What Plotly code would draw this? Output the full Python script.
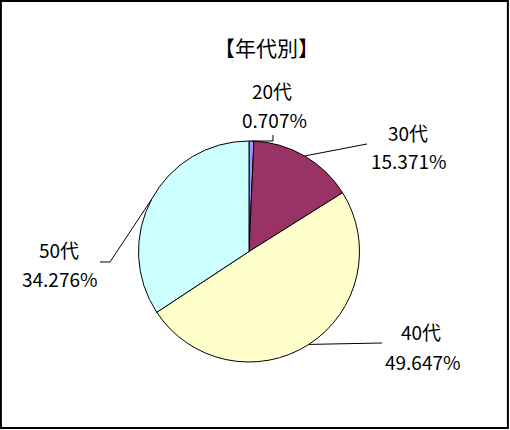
import math
import plotly.graph_objects as go

# ---- data ----
categories = ["20代", "30代", "40代", "50代"]
values = [0.707, 15.371, 49.647, 34.276]
pct_labels = ["0.707%", "15.371%", "49.647%", "34.276%"]
colors = ["#9999FF", "#993366", "#FFFFCC", "#CCFFFF"]
title_text = "【年代別】"

# ---- layout constants (pixels) ----
W, H = 510, 430
CX, CY, R = 249.0, 251.5, 110.5
FONT = "Noto Sans CJK JP, Noto Sans, sans-serif"

# label centre positions: (name_x, name_y, pct_x, pct_y)
label_pos = [
    (272, 90, 274, 119.5),
    (407.5, 132, 408.5, 160.5),
    (421, 331.5, 422.5, 361),
    (59, 249, 59.5, 278.5),
]
# leader-line intermediate/end points (pixels) after the slice anchor
leader_pts = [
    [(273, 141), (273, 135)],
    [(367, 144)],
    [(382, 343)],
    [(110, 262), (100, 262)],
]


def px(x):
    return x / W


def py(y):
    return 1 - y / H


fig = go.Figure(
    go.Pie(
        labels=categories,
        values=values,
        sort=False,
        direction="clockwise",
        rotation=0,
        marker=dict(colors=colors, line=dict(color="black", width=1)),
        textinfo="none",
        hoverinfo="label+percent",
        showlegend=False,
        domain=dict(x=[px(CX - R), px(CX + R)], y=[py(CY + R), py(CY - R)]),
    )
)

annotations = [
    dict(x=px(266), y=py(47), xref="paper", yref="paper", text=title_text,
         showarrow=False, xanchor="center", yanchor="middle",
         font=dict(family=FONT, size=21, color="black"))
]
shapes = []

total = sum(values)
cum = 0.0
for i, v in enumerate(values):
    mid = (cum + v / 2) / total * 2 * math.pi
    cum += v
    ax = CX + R * math.sin(mid)
    ay = CY - R * math.cos(mid)
    pts = [(ax, ay)] + leader_pts[i]
    path = "M " + " L ".join(f"{px(x):.5f},{py(y):.5f}" for x, y in pts)
    shapes.append(dict(type="path", path=path, xref="paper", yref="paper",
                       line=dict(color="black", width=1)))
    nx, ny, qx, qy = label_pos[i]
    annotations.append(dict(x=px(nx), y=py(ny), xref="paper", yref="paper",
                            text=categories[i], showarrow=False,
                            xanchor="center", yanchor="middle",
                            font=dict(family=FONT, size=19, color="black")))
    annotations.append(dict(x=px(qx), y=py(qy), xref="paper", yref="paper",
                            text=pct_labels[i], showarrow=False,
                            xanchor="center", yanchor="middle",
                            font=dict(family=FONT, size=19, color="black")))

# outer chart border
shapes.append(dict(type="rect", xref="paper", yref="paper",
                   x0=px(0.9), x1=px(507.9), y0=py(427.9), y1=py(0.9),
                   line=dict(color="black", width=2)))

fig.update_layout(
    width=W, height=H,
    margin=dict(l=0, r=0, t=0, b=0),
    paper_bgcolor="white", plot_bgcolor="white",
    annotations=annotations, shapes=shapes,
)

fig.write_html("out.html",
               config={"displayModeBar": False},
               post_script="document.body.style.margin='0';document.body.style.overflow='hidden';")
